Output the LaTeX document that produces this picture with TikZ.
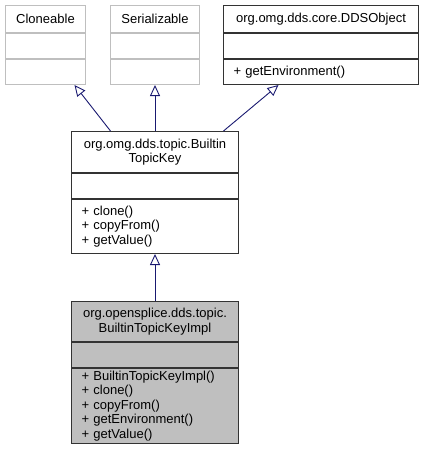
\documentclass[tikz,border=0pt]{standalone}
\usepackage{fontspec}
\setmainfont{Liberation Sans}
\usetikzlibrary{shapes,arrows.meta,positioning,calc}
\definecolor{navy}{HTML}{191970}
\definecolor{umlgray}{HTML}{BFBFBF}

\begin{document}
\begin{tikzpicture}[x=1pt,y=-1pt,
    umlfont/.style={font=\fontsize{13}{14.5}\selectfont},
    part/.style={draw=black!80, line width=1pt, rectangle, inner sep=0pt, umlfont, anchor=north},
    head/.style={part, align=center},
    ops/.style={part, align=left, inner xsep=10pt},
    faint/.style={draw=umlgray},
    inherit/.style={-{Triangle[open,length=11pt,width=10pt]}, draw=navy, line width=0.9pt}]
    \useasboundingbox (0,0) rectangle (424,456);
    %Parent classes%
    %===========================================================
    \node[head, faint, minimum width=80, minimum height=27, anchor=north west] (clone) at (5,5) {Cloneable};
    \node[part, faint, minimum width=80, minimum height=25] (cloneA) at (clone.south) {};
    \node[part, faint, minimum width=80, minimum height=25] (cloneM) at (cloneA.south) {};

    \node[head, faint, minimum width=89, minimum height=27, anchor=north west] (ser) at (110,5) {Serializable};
    \node[part, faint, minimum width=89, minimum height=25] (serA) at (ser.south) {};
    \node[part, faint, minimum width=89, minimum height=25] (serM) at (serA.south) {};

    \node[head, minimum width=195, minimum height=27, anchor=north west] (dds) at (223,5) {org.omg.dds.core.DDSObject};
    \node[part, minimum width=195, minimum height=25] (ddsA) at (dds.south) {};
    \node[ops, text width=175, minimum height=25] (ddsM) at (ddsA.south) {+ getEnvironment()};

    %BuiltinTopicKey%
    %===========================================================
    \node[head, minimum width=167, minimum height=41, anchor=north west] (key) at (71,131) {org.omg.dds.topic.Builtin\\TopicKey};
    \node[part, minimum width=167, minimum height=25] (keyA) at (key.south) {};
    \node[ops, text width=147, minimum height=54] (keyM) at (keyA.south) {+ clone()\\+ copyFrom()\\+ getValue()};

    %Implementation class (highlighted)%
    %===========================================================
    \node[head, fill=umlgray, minimum width=167, minimum height=40, anchor=north west] (impl) at (71,301) {org.opensplice.dds.topic.\\BuiltinTopicKeyImpl};
    \node[part, fill=umlgray, minimum width=167, minimum height=25] (implA) at (impl.south) {};
    \node[ops, fill=umlgray, text width=147, minimum height=75] (implM) at (implA.south) {+ BuiltinTopicKeyImpl()\\+ clone()\\+ copyFrom()\\+ getEnvironment()\\+ getValue()};

    %Inheritance arrows%
    \draw[inherit] ($(key.north)+(-44.5,0)$) -- ($(cloneM.south)+(29,0)$);
    \draw[inherit] (key.north) -- (serM.south);
    \draw[inherit] ($(key.north)+(68.5,0)$) -- ($(ddsM.south)+(-42.5,0)$);
    \draw[inherit] (impl.north) -- (keyM.south);
\end{tikzpicture}
\end{document}
